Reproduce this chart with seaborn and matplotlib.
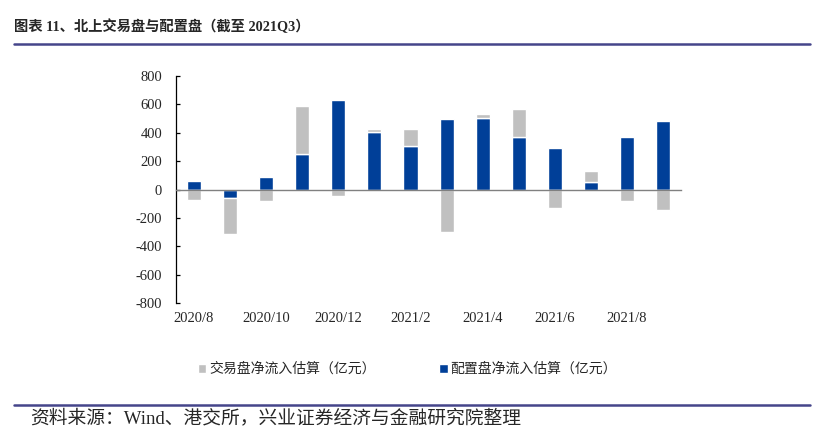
import numpy as np
import pandas as pd
import matplotlib
matplotlib.use("Agg")
import matplotlib.pyplot as plt
import seaborn as sns
from matplotlib.lines import Line2D
from matplotlib.patches import Patch
from matplotlib.ticker import FixedLocator

# data (亿元)
months = ["2020/8", "2020/9", "2020/10", "2020/11", "2020/12", "2021/1", "2021/2",
          "2021/3", "2021/4", "2021/5", "2021/6", "2021/7", "2021/8", "2021/9"]
trade_flow = [-72, -258, -82, 335, -47, 23, 122, -297, 26, 194, -129, 77, -80, -147]
alloc_flow = [62, -58, 89, 250, 629, 405, 304, 498, 503, 370, 290, 54, 367, 480]
y_ticks = [-800, -600, -400, -200, 0, 200, 400, 600, 800]

trade_name = "交易盘净流入估算（亿元）"
alloc_name = "配置盘净流入估算（亿元）"
blue = "#003F98"
grey = "#C0C0C0"

sns.set_theme(style="white")
plt.rcParams["font.family"] = ["Liberation Serif", "Noto Sans CJK SC", "DejaVu Sans"]
plt.rcParams["axes.unicode_minus"] = False

df = pd.DataFrame({"month": months, "trade": trade_flow, "alloc": alloc_flow})
# grey sits on top of the blue bar when both go the same way, otherwise starts at zero
same_sign = np.sign(df["trade"]) == np.sign(df["alloc"])
df["trade_base"] = np.where(same_sign, df["alloc"], 0)

fig = plt.figure(figsize=(8.35, 4.34), dpi=100)
ax = fig.add_axes([0.2108, 0.3018, 0.6048, 0.5231])

sns.barplot(data=df, x="month", y="alloc", color=blue, width=0.39,
            saturation=1, ax=ax, zorder=2)
ax.bar(np.arange(len(df)), df["trade"], bottom=df["trade_base"], width=0.39,
       color=grey, zorder=2)

ax.set_xlim(-0.5, len(months) - 0.5)
ax.set_ylim(-800, 800)
ax.set_yticks(y_ticks)
ax.set_yticklabels([str(v) for v in y_ticks], fontsize=10.5)
ax.set_xlabel("")
ax.set_ylabel("")

# category axis runs along zero, labels sit at the bottom
ax.spines["bottom"].set_position(("data", 0))
ax.spines["bottom"].set_color("#808080")
ax.spines["bottom"].set_linewidth(1.0)
ax.spines["bottom"].set_zorder(3)
ax.spines["top"].set_visible(False)
ax.spines["right"].set_visible(False)
ax.spines["left"].set_color("black")
ax.spines["left"].set_linewidth(0.9)

ax.set_xticks(range(0, len(months), 2))
ax.set_xticklabels(months[::2], fontsize=10.5)
ax.xaxis.set_minor_locator(FixedLocator(np.arange(-0.5, len(months), 2)))
ax.tick_params(axis="x", which="major", length=0, pad=88)
ax.tick_params(axis="x", which="minor", direction="in", length=4, color="#606060", width=0.9)
ax.tick_params(axis="y", direction="in", length=3, width=0.9, color="black", pad=10,
               left=True)

handles = [Patch(facecolor=grey, label=trade_name), Patch(facecolor=blue, label=alloc_name)]
fig.legend(handles=handles, loc="center", bbox_to_anchor=(0.488, 1 - 369 / 434), ncol=2,
           frameon=False, handlelength=0.6, handleheight=0.6, handletextpad=0.2,
           columnspacing=4.6, prop={"family": ["Noto Sans CJK SC"], "size": 10})

fig.text(0.017, 1 - 27 / 434, "图表 11、北上交易盘与配置盘（截至 2021Q3）", fontsize=10.3,
         fontweight="bold", va="center", ha="left",
         family=["Liberation Serif", "Noto Sans CJK SC"])
fig.text(0.036, 1 - 418 / 434, "资料来源：Wind、港交所，兴业证券经济与金融研究院整理",
         fontsize=13.5, va="center", ha="left",
         family=["Liberation Serif", "Noto Sans CJK SC"])

for ypix in (44, 405):
    fig.add_artist(Line2D([14 / 835, 810 / 835], [1 - ypix / 434] * 2, color="#45458A",
                          linewidth=1.8, transform=fig.transFigure))

fig.savefig("out.png", dpi=100)
